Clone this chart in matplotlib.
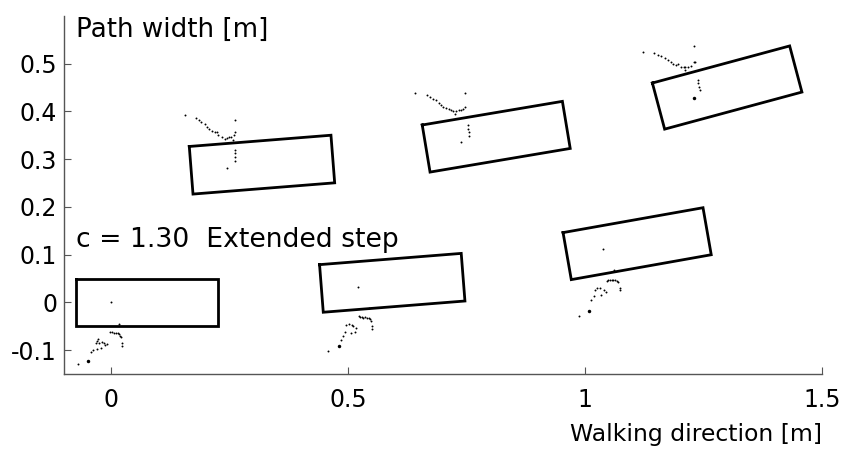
import numpy as np
import matplotlib
matplotlib.use("Agg")
import matplotlib.pyplot as plt

plt.rcParams['font.family'] = ['DejaVu Sans']
plt.rcParams['axes.unicode_minus'] = False

# step boxes: centre, heading (deg), size
step_x = [0.075, 0.593, 1.110, 0.318, 0.8125, 1.300]
step_y = [0.000, 0.041, 0.123, 0.2885, 0.347, 0.450]
step_ang = [0.0, 4.5, 10.0, 4.5, 9.5, 15.0]
foot_len = 0.3
foot_wid = 0.1

# trajectory dots, one cluster per step
ax_x = [0.000, 0.017, -0.002, 0.001, 0.006, 0.009, 0.013, 0.016, 0.018, 0.020, 0.023, 0.023,
        -0.028, -0.030, -0.027, -0.032, -0.020, -0.016, -0.009, -0.013, -0.022, -0.030, -0.039, -0.044, -0.070]
ax_y = [0.000, -0.046, -0.061, -0.062, -0.064, -0.065, -0.065, -0.067, -0.070, -0.072, -0.085, -0.092,
        -0.077, -0.081, -0.085, -0.086, -0.083, -0.085, -0.088, -0.090, -0.095, -0.097, -0.100, -0.103, -0.130]
bx = [0.520, 0.543, 0.522, 0.525, 0.529, 0.532, 0.536, 0.539, 0.543, 0.546, 0.548, 0.550, 0.550,
      0.501, 0.496, 0.508, 0.511, 0.517, 0.515, 0.506, 0.494, 0.489, 0.485, 0.458]
by = [0.032, -0.012, -0.029, -0.031, -0.031, -0.032, -0.031, -0.032, -0.033, -0.034, -0.038, -0.050, -0.055,
      -0.045, -0.048, -0.047, -0.050, -0.054, -0.062, -0.064, -0.062, -0.071, -0.078, -0.101]
cx = [1.037, 1.061, 1.046, 1.049, 1.053, 1.056, 1.060, 1.063, 1.067, 1.069, 1.074, 1.074,
      1.025, 1.021, 1.032, 1.041, 1.044, 1.034, 1.018, 1.013, 0.987]
cy = [0.111, 0.068, 0.044, 0.046, 0.047, 0.047, 0.047, 0.046, 0.044, 0.042, 0.031, 0.025,
      0.031, 0.027, 0.030, 0.027, 0.021, 0.015, 0.013, 0.004, -0.029]
dx = [0.155, 0.179, 0.184, 0.190, 0.197, 0.202, 0.207, 0.212, 0.218, 0.223, 0.226, 0.234, 0.239,
      0.244, 0.249, 0.253, 0.258, 0.262, 0.256, 0.260, 0.260, 0.260, 0.260, 0.260, 0.244]
dy = [0.393, 0.386, 0.381, 0.378, 0.374, 0.368, 0.363, 0.358, 0.357, 0.356, 0.351, 0.347, 0.343,
      0.345, 0.346, 0.347, 0.350, 0.356, 0.341, 0.383, 0.319, 0.312, 0.305, 0.296, 0.281]
ex = [0.641, 0.666, 0.673, 0.680, 0.685, 0.691, 0.696, 0.701, 0.706, 0.712, 0.717, 0.722, 0.727,
      0.733, 0.738, 0.743, 0.747, 0.726, 0.747, 0.753, 0.753, 0.754, 0.754, 0.738]
ey = [0.439, 0.435, 0.430, 0.427, 0.423, 0.418, 0.413, 0.409, 0.407, 0.406, 0.402, 0.400, 0.400,
      0.402, 0.403, 0.406, 0.409, 0.395, 0.439, 0.371, 0.364, 0.357, 0.348, 0.335]
fx = [1.123, 1.146, 1.153, 1.160, 1.169, 1.176, 1.181, 1.186, 1.191, 1.197, 1.203, 1.208,
      1.212, 1.218, 1.224, 1.229, 1.232, 1.211, 1.229, 1.239, 1.239, 1.241, 1.243]
fy = [0.524, 0.522, 0.519, 0.517, 0.512, 0.508, 0.503, 0.500, 0.498, 0.500, 0.494, 0.493,
      0.493, 0.494, 0.496, 0.503, 0.503, 0.487, 0.536, 0.466, 0.459, 0.451, 0.444]
# a few heavier dots
big_x = [-0.049, 0.480, 1.008, 1.231]
big_y = [-0.122, -0.092, -0.017, 0.429]

fig = plt.figure(figsize=(8.44, 4.51), dpi=100)
ax = fig.add_axes([0.0758, 0.1707, 0.898, 0.794])

for x0, y0, a in zip(step_x, step_y, step_ang):
    t = np.deg2rad(a)
    u = 0.5 * foot_len * np.array([np.cos(t), np.sin(t)])
    v = 0.5 * foot_wid * np.array([-np.sin(t), np.cos(t)])
    c = np.array([x0, y0])
    pts = np.array([c - u + v, c + u + v, c + u - v, c - u - v, c - u + v])
    ax.plot(pts[:, 0], pts[:, 1], color='k', lw=2.0, solid_joinstyle='miter')

for xs, ys in [(ax_x, ax_y), (bx, by), (cx, cy), (dx, dy), (ex, ey), (fx, fy)]:
    ax.plot(xs, ys, 'k.', markersize=2.8, markeredgewidth=0)
ax.plot(big_x, big_y, 'k.', markersize=5, markeredgewidth=0)

ax.set_xlim(-0.1, 1.5)
ax.set_ylim(-0.15, 0.6)
ax.set_xticks([0, 0.5, 1, 1.5])
ax.set_xticklabels(['0', '0.5', '1', '1.5'])
ax.set_yticks([-0.1, 0, 0.1, 0.2, 0.3, 0.4, 0.5])
ax.set_yticklabels(['-0.1', '0', '0.1', '0.2', '0.3', '0.4', '0.5'])

for s in ['top', 'right']:
    ax.spines[s].set_visible(False)
for s in ['left', 'bottom']:
    ax.spines[s].set_color('#555555')
    ax.spines[s].set_linewidth(1.0)
ax.tick_params(direction='in', length=5, width=0.8, color='#555555',
               labelsize=17, labelcolor='black')
ax.tick_params(axis='x', pad=10)
ax.tick_params(axis='y', pad=5)

ax.text(0.016, 0.941, 'Path width [m]', transform=ax.transAxes, fontsize=18.8,
        ha='left', va='baseline')
ax.text(0.016, 0.356, 'c = 1.30  Extended step', transform=ax.transAxes, fontsize=19.2,
        ha='left', va='baseline')
ax.text(1.0, -0.187, 'Walking direction [m]', transform=ax.transAxes, fontsize=16.9,
        ha='right', va='baseline')

fig.savefig('out.png', dpi=100)
